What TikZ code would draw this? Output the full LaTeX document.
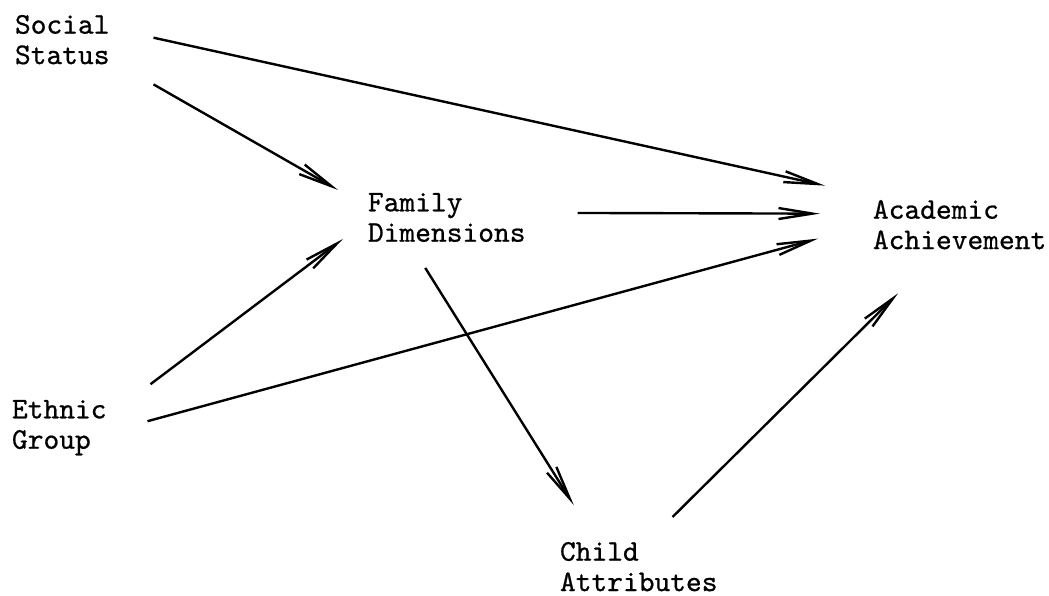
\documentclass[tikz,border=0pt]{standalone}
\usepackage{fontspec}
\usepackage{tikz}
\usetikzlibrary{positioning,arrows.meta}
\newfontfamily\typewriter[FakeBold=0.7]{lmmono10-regular.otf}

\begin{document}
\begin{tikzpicture}[
      x=0.5pt, y=-0.5pt,
      >={Straight Barb[length=17pt, width=5.5pt]},
      line width=1.2pt,
      factor/.style={anchor=north west, inner sep=0pt, outer sep=0pt, align=left,
        font=\typewriter\fontsize{15}{15.2}\selectfont},
    ]
      \useasboundingbox (0,0) rectangle (1049,595);
      \node[factor] (social) at (15,15) {Social\\Status};
      \node[factor] (ethnic) at (12,400) {Ethnic\\Group};
      \node[factor] (family) at (368,193) {Family\\Dimensions};
      \node[factor] (child) at (560,542) {Child\\Attributes};
      \node[factor] (academic) at (873,200) {Academic\\Achievement};

    \path[->]
        ([shift={(44,20)}]social.south east) edge ([shift={(-30,-27.5)}]family.west)
        ([shift={(44,-2)}]social.east) edge ([shift={(-48,-39)}]academic.west)
        ([shift={(52,-4.5)}]family.east) edge ([shift={(-53,-11)}]academic.west)
        ([shift={(44,-43.5)}]ethnic.east) edge ([shift={(-25,21.5)}]family.west)
        ([shift={(41,-6.5)}]ethnic.east) edge ([shift={(-55,14)}]academic.west)
        ([shift={(-21.5,26)}]family.south) edge ([shift={(-65,-37)}]child.north)
        ([shift={(-45,-25)}]child.north east) edge ([shift={(-61.5,44)}]academic.south);
      \end{tikzpicture}
\end{document}
